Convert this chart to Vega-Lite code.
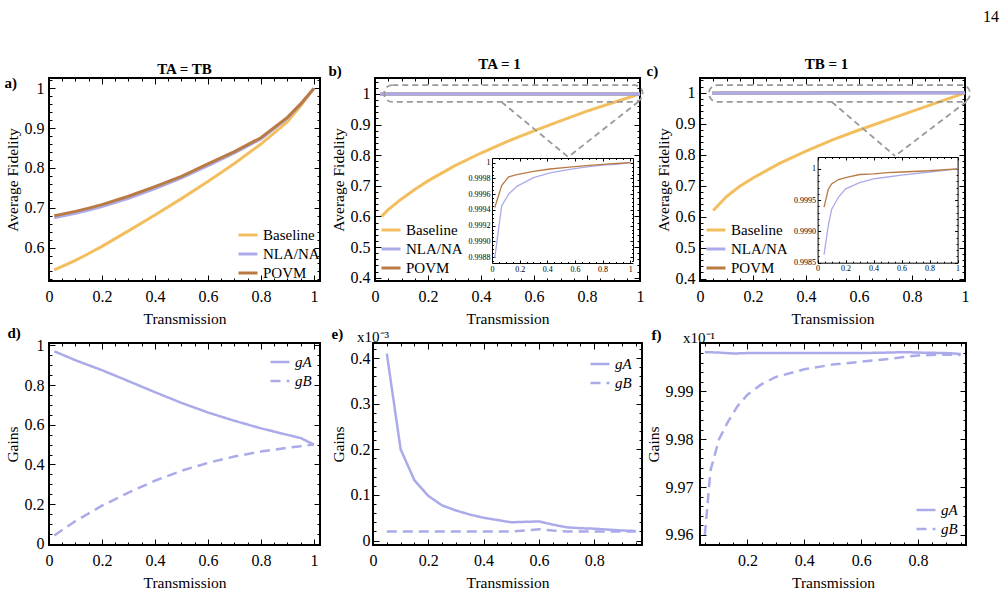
{
"$schema": "https://vega.github.io/schema/vega-lite/v6.json",
"background": "white",
"padding": {"left": 3, "top": 9, "right": 5, "bottom": 3},
"title": {"text": "14", "anchor": "end", "fontSize": 16, "fontWeight": "normal", "offset": 31, "dx": 27},
"datasets": {
"a": [
{"T":0.02,"F":0.544,"s":"Baseline"},{"T":0.05,"F":0.553,"s":"Baseline"},{"T":0.1,"F":0.568,"s":"Baseline"},{"T":0.15,"F":0.585,"s":"Baseline"},{"T":0.2,"F":0.603,"s":"Baseline"},{"T":0.3,"F":0.642,"s":"Baseline"},{"T":0.4,"F":0.682,"s":"Baseline"},{"T":0.5,"F":0.723,"s":"Baseline"},{"T":0.6,"F":0.766,"s":"Baseline"},{"T":0.7,"F":0.811,"s":"Baseline"},{"T":0.8,"F":0.86,"s":"Baseline"},{"T":0.9,"F":0.916,"s":"Baseline"},{"T":0.95,"F":0.956,"s":"Baseline"},{"T":1,"F":1,"s":"Baseline"},
{"T":0.02,"F":0.675,"s":"NLA/NA"},{"T":0.05,"F":0.679,"s":"NLA/NA"},{"T":0.1,"F":0.686,"s":"NLA/NA"},{"T":0.15,"F":0.694,"s":"NLA/NA"},{"T":0.2,"F":0.703,"s":"NLA/NA"},{"T":0.3,"F":0.724,"s":"NLA/NA"},{"T":0.4,"F":0.748,"s":"NLA/NA"},{"T":0.5,"F":0.775,"s":"NLA/NA"},{"T":0.6,"F":0.806,"s":"NLA/NA"},{"T":0.7,"F":0.838,"s":"NLA/NA"},{"T":0.8,"F":0.873,"s":"NLA/NA"},{"T":0.9,"F":0.925,"s":"NLA/NA"},{"T":0.95,"F":0.96,"s":"NLA/NA"},{"T":1,"F":1,"s":"NLA/NA"},
{"T":0.02,"F":0.68,"s":"POVM"},{"T":0.05,"F":0.684,"s":"POVM"},{"T":0.1,"F":0.691,"s":"POVM"},{"T":0.15,"F":0.699,"s":"POVM"},{"T":0.2,"F":0.708,"s":"POVM"},{"T":0.3,"F":0.729,"s":"POVM"},{"T":0.4,"F":0.753,"s":"POVM"},{"T":0.5,"F":0.779,"s":"POVM"},{"T":0.6,"F":0.81,"s":"POVM"},{"T":0.7,"F":0.841,"s":"POVM"},{"T":0.8,"F":0.876,"s":"POVM"},{"T":0.9,"F":0.927,"s":"POVM"},{"T":0.95,"F":0.961,"s":"POVM"},{"T":1,"F":1,"s":"POVM"}
],
"b": [
{"T":0.025,"F":0.6,"s":"Baseline"},{"T":0.05,"F":0.622,"s":"Baseline"},{"T":0.1,"F":0.657,"s":"Baseline"},{"T":0.15,"F":0.688,"s":"Baseline"},{"T":0.2,"F":0.716,"s":"Baseline"},{"T":0.3,"F":0.765,"s":"Baseline"},{"T":0.4,"F":0.807,"s":"Baseline"},{"T":0.5,"F":0.845,"s":"Baseline"},{"T":0.6,"F":0.879,"s":"Baseline"},{"T":0.7,"F":0.912,"s":"Baseline"},{"T":0.8,"F":0.944,"s":"Baseline"},{"T":0.9,"F":0.972,"s":"Baseline"},{"T":1,"F":1,"s":"Baseline"},
{"T":0.02,"F":0.99879,"s":"NLA/NA"},{"T":0.07,"F":0.99945,"s":"NLA/NA"},{"T":0.12,"F":0.9996,"s":"NLA/NA"},{"T":0.18,"F":0.9997,"s":"NLA/NA"},{"T":0.3,"F":0.99981,"s":"NLA/NA"},{"T":0.42,"F":0.99987,"s":"NLA/NA"},{"T":0.54,"F":0.99991,"s":"NLA/NA"},{"T":0.66,"F":0.99994,"s":"NLA/NA"},{"T":0.8,"F":0.99997,"s":"NLA/NA"},{"T":0.9,"F":0.99998,"s":"NLA/NA"},{"T":1,"F":1,"s":"NLA/NA"},
{"T":0.02,"F":0.99943,"s":"POVM"},{"T":0.07,"F":0.99971,"s":"POVM"},{"T":0.12,"F":0.99982,"s":"POVM"},{"T":0.18,"F":0.99985,"s":"POVM"},{"T":0.3,"F":0.99989,"s":"POVM"},{"T":0.42,"F":0.99992,"s":"POVM"},{"T":0.54,"F":0.99994,"s":"POVM"},{"T":0.66,"F":0.99996,"s":"POVM"},{"T":0.8,"F":0.99998,"s":"POVM"},{"T":0.9,"F":0.99999,"s":"POVM"},{"T":1,"F":1,"s":"POVM"}
],
"c": [
{"T":0.05,"F":0.62,"s":"Baseline"},{"T":0.1,"F":0.665,"s":"Baseline"},{"T":0.15,"F":0.698,"s":"Baseline"},{"T":0.2,"F":0.725,"s":"Baseline"},{"T":0.3,"F":0.772,"s":"Baseline"},{"T":0.4,"F":0.812,"s":"Baseline"},{"T":0.5,"F":0.848,"s":"Baseline"},{"T":0.6,"F":0.88,"s":"Baseline"},{"T":0.7,"F":0.91,"s":"Baseline"},{"T":0.8,"F":0.94,"s":"Baseline"},{"T":0.9,"F":0.97,"s":"Baseline"},{"T":1,"F":1,"s":"Baseline"},
{"T":0.046,"F":0.99863,"s":"NLA/NA"},{"T":0.076,"F":0.99909,"s":"NLA/NA"},{"T":0.1,"F":0.99935,"s":"NLA/NA"},{"T":0.15,"F":0.99955,"s":"NLA/NA"},{"T":0.2,"F":0.99968,"s":"NLA/NA"},{"T":0.3,"F":0.99978,"s":"NLA/NA"},{"T":0.4,"F":0.99984,"s":"NLA/NA"},{"T":0.5,"F":0.99987,"s":"NLA/NA"},{"T":0.6,"F":0.9999,"s":"NLA/NA"},{"T":0.8,"F":0.99995,"s":"NLA/NA"},{"T":1,"F":1,"s":"NLA/NA"},
{"T":0.046,"F":0.99939,"s":"POVM"},{"T":0.076,"F":0.99967,"s":"POVM"},{"T":0.1,"F":0.99976,"s":"POVM"},{"T":0.15,"F":0.99983,"s":"POVM"},{"T":0.2,"F":0.99986,"s":"POVM"},{"T":0.3,"F":0.99991,"s":"POVM"},{"T":0.4,"F":0.99992,"s":"POVM"},{"T":0.5,"F":0.99994,"s":"POVM"},{"T":0.6,"F":0.99995,"s":"POVM"},{"T":0.8,"F":0.99997,"s":"POVM"},{"T":1,"F":1,"s":"POVM"}
],
"d": [
{"T":0.02,"g":0.97,"s":"gA"},{"T":0.1,"g":0.925,"s":"gA"},{"T":0.2,"g":0.875,"s":"gA"},{"T":0.3,"g":0.82,"s":"gA"},{"T":0.4,"g":0.764,"s":"gA"},{"T":0.5,"g":0.71,"s":"gA"},{"T":0.6,"g":0.662,"s":"gA"},{"T":0.7,"g":0.62,"s":"gA"},{"T":0.8,"g":0.582,"s":"gA"},{"T":0.9,"g":0.549,"s":"gA"},{"T":0.95,"g":0.533,"s":"gA"},{"T":1,"g":0.5,"s":"gA"},
{"T":0.02,"g":0.042,"s":"gB"},{"T":0.1,"g":0.115,"s":"gB"},{"T":0.2,"g":0.192,"s":"gB"},{"T":0.3,"g":0.258,"s":"gB"},{"T":0.4,"g":0.318,"s":"gB"},{"T":0.5,"g":0.368,"s":"gB"},{"T":0.6,"g":0.408,"s":"gB"},{"T":0.7,"g":0.44,"s":"gB"},{"T":0.8,"g":0.465,"s":"gB"},{"T":0.9,"g":0.484,"s":"gB"},{"T":0.95,"g":0.492,"s":"gB"},{"T":1,"g":0.5,"s":"gB"}
],
"e": [
{"T":0.05,"g":0.41,"s":"gA"},{"T":0.1,"g":0.2,"s":"gA"},{"T":0.15,"g":0.132,"s":"gA"},{"T":0.2,"g":0.098,"s":"gA"},{"T":0.25,"g":0.077,"s":"gA"},{"T":0.3,"g":0.066,"s":"gA"},{"T":0.35,"g":0.057,"s":"gA"},{"T":0.4,"g":0.05,"s":"gA"},{"T":0.45,"g":0.045,"s":"gA"},{"T":0.5,"g":0.04,"s":"gA"},{"T":0.55,"g":0.041,"s":"gA"},{"T":0.6,"g":0.042,"s":"gA"},{"T":0.65,"g":0.035,"s":"gA"},{"T":0.7,"g":0.029,"s":"gA"},{"T":0.75,"g":0.027,"s":"gA"},{"T":0.8,"g":0.026,"s":"gA"},{"T":0.85,"g":0.024,"s":"gA"},{"T":0.9,"g":0.022,"s":"gA"},{"T":0.95,"g":0.021,"s":"gA"},
{"T":0.05,"g":0.02,"s":"gB"},{"T":0.1,"g":0.02,"s":"gB"},{"T":0.2,"g":0.02,"s":"gB"},{"T":0.3,"g":0.02,"s":"gB"},{"T":0.4,"g":0.02,"s":"gB"},{"T":0.5,"g":0.02,"s":"gB"},{"T":0.55,"g":0.022,"s":"gB"},{"T":0.6,"g":0.025,"s":"gB"},{"T":0.65,"g":0.022,"s":"gB"},{"T":0.7,"g":0.02,"s":"gB"},{"T":0.8,"g":0.02,"s":"gB"},{"T":0.9,"g":0.02,"s":"gB"},{"T":0.95,"g":0.02,"s":"gB"}
],
"f": [
{"T":0.05,"g":9.9982,"s":"gA"},{"T":0.1,"g":9.9981,"s":"gA"},{"T":0.15,"g":9.9979,"s":"gA"},{"T":0.2,"g":9.998,"s":"gA"},{"T":0.3,"g":9.998,"s":"gA"},{"T":0.4,"g":9.998,"s":"gA"},{"T":0.5,"g":9.998,"s":"gA"},{"T":0.6,"g":9.998,"s":"gA"},{"T":0.7,"g":9.9981,"s":"gA"},{"T":0.75,"g":9.9982,"s":"gA"},{"T":0.8,"g":9.9981,"s":"gA"},{"T":0.9,"g":9.998,"s":"gA"},{"T":0.95,"g":9.9978,"s":"gA"},
{"T":0.05,"g":9.96,"s":"gB"},{"T":0.07,"g":9.9735,"s":"gB"},{"T":0.1,"g":9.98,"s":"gB"},{"T":0.13,"g":9.9835,"s":"gB"},{"T":0.165,"g":9.9869,"s":"gB"},{"T":0.2,"g":9.9893,"s":"gB"},{"T":0.25,"g":9.9915,"s":"gB"},{"T":0.3,"g":9.993,"s":"gB"},{"T":0.4,"g":9.9946,"s":"gB"},{"T":0.5,"g":9.9956,"s":"gB"},{"T":0.6,"g":9.9962,"s":"gB"},{"T":0.7,"g":9.9968,"s":"gB"},{"T":0.8,"g":9.9975,"s":"gB"},{"T":0.9,"g":9.9977,"s":"gB"},{"T":0.95,"g":9.9976,"s":"gB"}
]
},
"vconcat": [
{"hconcat": [
 {"width": 271, "height": 203,
  "title": {"text": "TA = TB", "anchor": "middle", "frame": "group", "offset": 5, "dy": 10},
  "data": {"name": "a"},
  "layer": [
   {"mark": {"type": "line", "strokeWidth": 3},
    "encoding": {
     "x": {"field": "T", "type": "quantitative", "scale": {"domain": [0, 1.023], "nice": false, "zero": false},
      "axis": {"orient": "bottom", "values": [0,0.05,0.1,0.15,0.2,0.25,0.3,0.35,0.4,0.45,0.5,0.55,0.6,0.65,0.7,0.75,0.8,0.85,0.9,0.95,1], "format": "~g", "labelExpr": "abs(datum.value*5-round(datum.value*5))<1e-6 ? datum.label : ''", "tickSize": {"condition": {"test": "abs(datum.value*5-round(datum.value*5))<1e-6", "value": -6}, "value": -3}, "title": "Transmission", "titlePadding": 4}},
     "y": {"field": "F", "type": "quantitative", "scale": {"domain": [0.516, 1.026], "nice": false, "zero": false},
      "axis": {"orient": "left", "values": [0.52,0.54,0.56,0.58,0.6,0.62,0.64,0.66,0.68,0.7,0.72,0.74,0.76,0.78,0.8,0.82,0.84,0.86,0.88,0.9,0.92,0.94,0.96,0.98,1,1.02], "format": "~g", "labelExpr": "abs(datum.value*10-round(datum.value*10))<1e-6 ? datum.label : ''", "tickSize": {"condition": {"test": "abs(datum.value*10-round(datum.value*10))<1e-6", "value": -6}, "value": -3}, "labelPadding": 11, "title": "Average Fidelity", "titlePadding": 4}},
     "color": {"field": "s", "type": "nominal", "scale": {"domain": ["Baseline", "NLA/NA", "POVM"], "range": ["#F3BE5E", "#ABABEA", "#B97B43"]}, "legend": {"title": null, "orient": "bottom-right", "offset": 0}}
    }},
   {"mark": {"type": "point", "opacity": 0},
    "encoding": {
     "x": {"field": "T", "type": "quantitative", "axis": {"orient": "top", "values": [0,0.05,0.1,0.15,0.2,0.25,0.3,0.35,0.4,0.45,0.5,0.55,0.6,0.65,0.7,0.75,0.8,0.85,0.9,0.95,1], "labels": false, "tickSize": {"condition": {"test": "abs(datum.value*5-round(datum.value*5))<1e-6", "value": -6}, "value": -3}, "title": "a)", "titleX": -45, "titleY": 4, "titleAngle": 0, "titleAlign": "left", "titleBaseline": "middle", "titleFontWeight": "bold", "titleFontSize": 15}},
     "y": {"field": "F", "type": "quantitative", "axis": {"orient": "right", "values": [0.52,0.54,0.56,0.58,0.6,0.62,0.64,0.66,0.68,0.7,0.72,0.74,0.76,0.78,0.8,0.82,0.84,0.86,0.88,0.9,0.92,0.94,0.96,0.98,1,1.02], "labels": false, "tickSize": {"condition": {"test": "abs(datum.value*10-round(datum.value*10))<1e-6", "value": -6}, "value": -3}, "title": null}}
    }}
  ],
  "resolve": {"axis": {"x": "independent", "y": "independent"}}
 },
 {"hconcat": [
 {"width": 265, "height": 203,
  "title": {"text": "TA = 1", "anchor": "middle", "frame": "group", "offset": 5, "dx": -8, "dy": 14},
  "layer": [
   {"data": {"name": "b"},
    "layer": [
     {"mark": {"type": "line", "strokeWidth": 3},
      "encoding": {
       "x": {"field": "T", "type": "quantitative", "scale": {"domain": [0, 1], "nice": false, "zero": false},
        "axis": {"orient": "bottom", "values": [0,0.05,0.1,0.15,0.2,0.25,0.3,0.35,0.4,0.45,0.5,0.55,0.6,0.65,0.7,0.75,0.8,0.85,0.9,0.95,1], "format": "~g", "labelExpr": "abs(datum.value*5-round(datum.value*5))<1e-6 ? datum.label : ''", "tickSize": {"condition": {"test": "abs(datum.value*5-round(datum.value*5))<1e-6", "value": -6}, "value": -3}, "title": "Transmission", "titlePadding": 4}},
       "y": {"field": "F", "type": "quantitative", "scale": {"domain": [0.389, 1.052], "nice": false, "zero": false},
        "axis": {"orient": "left", "values": [0.4,0.42,0.44,0.46,0.48,0.5,0.52,0.54,0.56,0.58,0.6,0.62,0.64,0.66,0.68,0.7,0.72,0.74,0.76,0.78,0.8,0.82,0.84,0.86,0.88,0.9,0.92,0.94,0.96,0.98,1,1.02,1.04], "format": "~g", "labelExpr": "abs(datum.value*10-round(datum.value*10))<1e-6 ? datum.label : ''", "tickSize": {"condition": {"test": "abs(datum.value*10-round(datum.value*10))<1e-6", "value": -6}, "value": -3}, "labelPadding": 11, "title": "Average Fidelity", "titlePadding": 4}},
       "color": {"field": "s", "type": "nominal", "scale": {"domain": ["Baseline", "NLA/NA", "POVM"], "range": ["#F3BE5E", "#ABABEA", "#B97B43"]}, "legend": {"title": null, "orient": "bottom-left", "offset": 5}}
      }},
     {"transform": [{"filter": "datum.s == 'NLA/NA'"}],
      "mark": {"type": "line", "strokeWidth": 3, "color": "#ABABEA"},
      "encoding": {"x": {"field": "T", "type": "quantitative", "axis": null}, "y": {"field": "F", "type": "quantitative", "axis": null}}},
     {"mark": {"type": "point", "opacity": 0},
      "encoding": {
       "x": {"field": "T", "type": "quantitative", "axis": {"orient": "top", "values": [0,0.05,0.1,0.15,0.2,0.25,0.3,0.35,0.4,0.45,0.5,0.55,0.6,0.65,0.7,0.75,0.8,0.85,0.9,0.95,1], "labels": false, "tickSize": {"condition": {"test": "abs(datum.value*5-round(datum.value*5))<1e-6", "value": -6}, "value": -3}, "title": "b)", "titleX": -47, "titleY": -8, "titleAngle": 0, "titleAlign": "left", "titleBaseline": "middle", "titleFontWeight": "bold", "titleFontSize": 15}},
       "y": {"field": "F", "type": "quantitative", "axis": {"orient": "right", "values": [0.4,0.42,0.44,0.46,0.48,0.5,0.52,0.54,0.56,0.58,0.6,0.62,0.64,0.66,0.68,0.7,0.72,0.74,0.76,0.78,0.8,0.82,0.84,0.86,0.88,0.9,0.92,0.94,0.96,0.98,1,1.02,1.04], "labels": false, "tickSize": {"condition": {"test": "abs(datum.value*10-round(datum.value*10))<1e-6", "value": -6}, "value": -3}, "title": null}}
      }},
     {"data": {"values": [{}]},
      "mark": {"type": "rect", "filled": false, "color": "#999999", "strokeWidth": 1.8, "strokeDash": [6, 4], "cornerRadius": 8},
      "encoding": {"x": {"datum": 0.035, "type": "quantitative", "axis": null}, "x2": {"datum": 1.01}, "y": {"datum": 0.974, "type": "quantitative", "axis": null}, "y2": {"datum": 1.029}}},
     {"data": {"values": [{}]},
      "mark": {"type": "rule", "color": "#999999", "strokeWidth": 1.8, "strokeDash": [6, 4]},
      "encoding": {"x": {"datum": 0.477, "type": "quantitative", "axis": null}, "x2": {"datum": 0.729}, "y": {"datum": 0.974, "type": "quantitative", "axis": null}, "y2": {"datum": 0.794}}},
     {"data": {"values": [{}]},
      "mark": {"type": "rule", "color": "#999999", "strokeWidth": 1.8, "strokeDash": [6, 4]},
      "encoding": {"x": {"datum": 0.995, "type": "quantitative", "axis": null}, "x2": {"datum": 0.729}, "y": {"datum": 0.975, "type": "quantitative", "axis": null}, "y2": {"datum": 0.794}}}
    ],
    "resolve": {"axis": {"x": "independent", "y": "independent"}}
   },
   {"data": {"name": "b"},
    "transform": [{"filter": "datum.s != 'Baseline'"}],
    "layer": [
     {"mark": {"type": "line", "strokeWidth": 1.3},
      "encoding": {
       "x": {"field": "T", "type": "quantitative", "scale": {"domain": [0, 1.02], "range": [117, 258], "nice": false, "zero": false},
        "axis": {"orient": "bottom", "offset": -18, "values": [0,0.05,0.1,0.15,0.2,0.25,0.3,0.35,0.4,0.45,0.5,0.55,0.6,0.65,0.7,0.75,0.8,0.85,0.9,0.95,1], "format": "~g", "labelExpr": "abs(datum.value*5-round(datum.value*5))<1e-6 ? datum.label : ''", "labelFontSize": 8, "labelPadding": 5, "tickSize": {"condition": {"test": "abs(datum.value*5-round(datum.value*5))<1e-6", "value": -3}, "value": -1.5}, "domain": true, "domainColor": "black", "domainWidth": 1, "title": null}},
       "y": {"field": "F", "type": "quantitative", "scale": {"domain": [0.99875, 1.00006], "range": [183, 80], "nice": false, "zero": false},
        "axis": {"orient": "left", "offset": -117, "values": [0.99875,0.9988,0.99885,0.9989,0.99895,0.999,0.99905,0.9991,0.99915,0.9992,0.99925,0.9993,0.99935,0.9994,0.99945,0.9995,0.99955,0.9996,0.99965,0.9997,0.99975,0.9998,0.99985,0.9999,0.99995,1], "labelExpr": "abs(datum.value*5000-round(datum.value*5000))<0.01 ? (datum.value==1 ? '1' : format(datum.value,'.4f')) : ''", "labelFontSize": 8, "labelPadding": 5, "tickSize": {"condition": {"test": "abs(datum.value*5000-round(datum.value*5000))<0.01", "value": -3}, "value": -1.5}, "domain": true, "domainColor": "black", "domainWidth": 1, "title": null}},
       "color": {"field": "s", "type": "nominal"}
      }},
     {"mark": {"type": "point", "opacity": 0},
      "encoding": {
       "x": {"field": "T", "type": "quantitative", "axis": {"orient": "top", "offset": -80, "values": [0,0.05,0.1,0.15,0.2,0.25,0.3,0.35,0.4,0.45,0.5,0.55,0.6,0.65,0.7,0.75,0.8,0.85,0.9,0.95,1], "labels": false, "tickSize": {"condition": {"test": "abs(datum.value*5-round(datum.value*5))<1e-6", "value": -3}, "value": -1.5}, "domain": true, "domainColor": "black", "domainWidth": 1, "title": null}},
       "y": {"field": "F", "type": "quantitative", "axis": {"orient": "right", "offset": -7, "values": [0.99875,0.9988,0.99885,0.9989,0.99895,0.999,0.99905,0.9991,0.99915,0.9992,0.99925,0.9993,0.99935,0.9994,0.99945,0.9995,0.99955,0.9996,0.99965,0.9997,0.99975,0.9998,0.99985,0.9999,0.99995,1], "labels": false, "tickSize": {"condition": {"test": "abs(datum.value*5000-round(datum.value*5000))<0.01", "value": -3}, "value": -1.5}, "domain": true, "domainColor": "black", "domainWidth": 1, "title": null}}
      }}
    ],
    "resolve": {"axis": {"x": "independent", "y": "independent"}}
   }
  ],
  "resolve": {"scale": {"x": "independent", "y": "independent"}}
 },
 {"width": 265, "height": 203,
  "title": {"text": "TB = 1", "anchor": "middle", "frame": "group", "offset": 5, "dx": -6, "dy": 14},
  "layer": [
   {"data": {"name": "c"},
    "layer": [
     {"mark": {"type": "line", "strokeWidth": 3},
      "encoding": {
       "x": {"field": "T", "type": "quantitative", "scale": {"domain": [0, 1], "nice": false, "zero": false},
        "axis": {"orient": "bottom", "values": [0,0.05,0.1,0.15,0.2,0.25,0.3,0.35,0.4,0.45,0.5,0.55,0.6,0.65,0.7,0.75,0.8,0.85,0.9,0.95,1], "format": "~g", "labelExpr": "abs(datum.value*5-round(datum.value*5))<1e-6 ? datum.label : ''", "tickSize": {"condition": {"test": "abs(datum.value*5-round(datum.value*5))<1e-6", "value": -6}, "value": -3}, "title": "Transmission", "titlePadding": 4}},
       "y": {"field": "F", "type": "quantitative", "scale": {"domain": [0.392, 1.048], "nice": false, "zero": false},
        "axis": {"orient": "left", "values": [0.4,0.42,0.44,0.46,0.48,0.5,0.52,0.54,0.56,0.58,0.6,0.62,0.64,0.66,0.68,0.7,0.72,0.74,0.76,0.78,0.8,0.82,0.84,0.86,0.88,0.9,0.92,0.94,0.96,0.98,1,1.02,1.04], "format": "~g", "labelExpr": "abs(datum.value*10-round(datum.value*10))<1e-6 ? datum.label : ''", "tickSize": {"condition": {"test": "abs(datum.value*10-round(datum.value*10))<1e-6", "value": -6}, "value": -3}, "labelPadding": 11, "title": "Average Fidelity", "titlePadding": 4}},
       "color": {"field": "s", "type": "nominal", "scale": {"domain": ["Baseline", "NLA/NA", "POVM"], "range": ["#F3BE5E", "#ABABEA", "#B97B43"]}, "legend": {"title": null, "orient": "bottom-left", "offset": 5}}
      }},
     {"transform": [{"filter": "datum.s == 'NLA/NA'"}],
      "mark": {"type": "line", "strokeWidth": 3, "color": "#ABABEA"},
      "encoding": {"x": {"field": "T", "type": "quantitative", "axis": null}, "y": {"field": "F", "type": "quantitative", "axis": null}}},
     {"mark": {"type": "point", "opacity": 0},
      "encoding": {
       "x": {"field": "T", "type": "quantitative", "axis": {"orient": "top", "values": [0,0.05,0.1,0.15,0.2,0.25,0.3,0.35,0.4,0.45,0.5,0.55,0.6,0.65,0.7,0.75,0.8,0.85,0.9,0.95,1], "labels": false, "tickSize": {"condition": {"test": "abs(datum.value*5-round(datum.value*5))<1e-6", "value": -6}, "value": -3}, "title": "c)", "titleX": -54, "titleY": -8, "titleAngle": 0, "titleAlign": "left", "titleBaseline": "middle", "titleFontWeight": "bold", "titleFontSize": 15}},
       "y": {"field": "F", "type": "quantitative", "axis": {"orient": "right", "values": [0.4,0.42,0.44,0.46,0.48,0.5,0.52,0.54,0.56,0.58,0.6,0.62,0.64,0.66,0.68,0.7,0.72,0.74,0.76,0.78,0.8,0.82,0.84,0.86,0.88,0.9,0.92,0.94,0.96,0.98,1,1.02,1.04], "labels": false, "tickSize": {"condition": {"test": "abs(datum.value*10-round(datum.value*10))<1e-6", "value": -6}, "value": -3}, "title": null}}
      }},
     {"data": {"values": [{}]},
      "mark": {"type": "rect", "filled": false, "color": "#999999", "strokeWidth": 1.8, "strokeDash": [6, 4], "cornerRadius": 8},
      "encoding": {"x": {"datum": 0.034, "type": "quantitative", "axis": null}, "x2": {"datum": 1.019}, "y": {"datum": 0.971, "type": "quantitative", "axis": null}, "y2": {"datum": 1.025}}},
     {"data": {"values": [{}]},
      "mark": {"type": "rule", "color": "#999999", "strokeWidth": 1.8, "strokeDash": [6, 4]},
      "encoding": {"x": {"datum": 0.497, "type": "quantitative", "axis": null}, "x2": {"datum": 0.736}, "y": {"datum": 0.971, "type": "quantitative", "axis": null}, "y2": {"datum": 0.796}}},
     {"data": {"values": [{}]},
      "mark": {"type": "rule", "color": "#999999", "strokeWidth": 1.8, "strokeDash": [6, 4]},
      "encoding": {"x": {"datum": 1.006, "type": "quantitative", "axis": null}, "x2": {"datum": 0.736}, "y": {"datum": 0.972, "type": "quantitative", "axis": null}, "y2": {"datum": 0.796}}}
    ],
    "resolve": {"axis": {"x": "independent", "y": "independent"}}
   },
   {"data": {"name": "c"},
    "transform": [{"filter": "datum.s != 'Baseline'"}],
    "layer": [
     {"mark": {"type": "line", "strokeWidth": 1.3},
      "encoding": {
       "x": {"field": "T", "type": "quantitative", "scale": {"domain": [0, 1], "range": [117.6, 257.6], "nice": false, "zero": false},
        "axis": {"orient": "bottom", "offset": -18.3, "values": [0,0.05,0.1,0.15,0.2,0.25,0.3,0.35,0.4,0.45,0.5,0.55,0.6,0.65,0.7,0.75,0.8,0.85,0.9,0.95,1], "format": "~g", "labelExpr": "abs(datum.value*5-round(datum.value*5))<1e-6 ? datum.label : ''", "labelFontSize": 8, "labelPadding": 5, "tickSize": {"condition": {"test": "abs(datum.value*5-round(datum.value*5))<1e-6", "value": -3}, "value": -1.5}, "domain": true, "domainColor": "black", "domainWidth": 1, "title": null}},
       "y": {"field": "F", "type": "quantitative", "scale": {"domain": [0.9985, 1.00019], "range": [184.7, 79], "nice": false, "zero": false},
        "axis": {"orient": "left", "offset": -117.6, "values": [0.9985,0.9986,0.9987,0.9988,0.9989,0.999,0.9991,0.9992,0.9993,0.9994,0.9995,0.9996,0.9997,0.9998,0.9999,1], "labelExpr": "abs(datum.value*2000-round(datum.value*2000))<0.01 ? (datum.value==1 ? '1' : format(datum.value,'.4f')) : ''", "labelFontSize": 8, "labelPadding": 5, "tickSize": {"condition": {"test": "abs(datum.value*2000-round(datum.value*2000))<0.01", "value": -3}, "value": -1.5}, "domain": true, "domainColor": "black", "domainWidth": 1, "title": null}},
       "color": {"field": "s", "type": "nominal"}
      }},
     {"mark": {"type": "point", "opacity": 0},
      "encoding": {
       "x": {"field": "T", "type": "quantitative", "axis": {"orient": "top", "offset": -79, "values": [0,0.05,0.1,0.15,0.2,0.25,0.3,0.35,0.4,0.45,0.5,0.55,0.6,0.65,0.7,0.75,0.8,0.85,0.9,0.95,1], "labels": false, "tickSize": {"condition": {"test": "abs(datum.value*5-round(datum.value*5))<1e-6", "value": -3}, "value": -1.5}, "domain": true, "domainColor": "black", "domainWidth": 1, "title": null}},
       "y": {"field": "F", "type": "quantitative", "axis": {"orient": "right", "offset": -7.4, "values": [0.9985,0.9986,0.9987,0.9988,0.9989,0.999,0.9991,0.9992,0.9993,0.9994,0.9995,0.9996,0.9997,0.9998,0.9999,1], "labels": false, "tickSize": {"condition": {"test": "abs(datum.value*2000-round(datum.value*2000))<0.01", "value": -3}, "value": -1.5}, "domain": true, "domainColor": "black", "domainWidth": 1, "title": null}}
      }}
    ],
    "resolve": {"axis": {"x": "independent", "y": "independent"}}
   }
  ],
  "resolve": {"scale": {"x": "independent", "y": "independent"}}
 }
 ],
 "spacing": -2,
 "resolve": {"scale": {"color": "independent", "strokeDash": "independent"}}
 }
],
"spacing": 5,
"resolve": {"scale": {"color": "independent", "strokeDash": "independent"}}
},
{"hconcat": [
 {"width": 271, "height": 202,
  "data": {"name": "d"},
  "layer": [
   {"mark": {"type": "line", "strokeWidth": 2.5, "color": "#ABABEA"},
    "encoding": {
     "x": {"field": "T", "type": "quantitative", "scale": {"domain": [0, 1.023], "nice": false, "zero": false},
      "axis": {"orient": "bottom", "values": [0,0.05,0.1,0.15,0.2,0.25,0.3,0.35,0.4,0.45,0.5,0.55,0.6,0.65,0.7,0.75,0.8,0.85,0.9,0.95,1], "format": "~g", "labelExpr": "abs(datum.value*5-round(datum.value*5))<1e-6 ? datum.label : ''", "tickSize": {"condition": {"test": "abs(datum.value*5-round(datum.value*5))<1e-6", "value": -6}, "value": -3}, "title": "Transmission", "titlePadding": 4}},
     "y": {"field": "g", "type": "quantitative", "scale": {"domain": [-0.006, 1.012], "nice": false, "zero": false},
      "axis": {"orient": "left", "values": [0,0.05,0.1,0.15,0.2,0.25,0.3,0.35,0.4,0.45,0.5,0.55,0.6,0.65,0.7,0.75,0.8,0.85,0.9,0.95,1], "format": "~g", "labelExpr": "abs(datum.value*5-round(datum.value*5))<1e-6 ? datum.label : ''", "tickSize": {"condition": {"test": "abs(datum.value*5-round(datum.value*5))<1e-6", "value": -6}, "value": -3}, "labelPadding": 11, "title": "Gains", "titlePadding": 4}},
     "strokeDash": {"field": "s", "type": "nominal", "scale": {"domain": ["gA", "gB"], "range": [[1, 0], [10, 6]]}, "legend": {"title": null, "orient": "top-right", "offset": 8, "labelFontStyle": "italic", "symbolStrokeColor": "#ABABEA", "symbolStrokeWidth": 2.5}}
    }},
   {"mark": {"type": "point", "opacity": 0},
    "encoding": {
     "x": {"field": "T", "type": "quantitative", "axis": {"orient": "top", "values": [0,0.05,0.1,0.15,0.2,0.25,0.3,0.35,0.4,0.45,0.5,0.55,0.6,0.65,0.7,0.75,0.8,0.85,0.9,0.95,1], "labels": false, "tickSize": {"condition": {"test": "abs(datum.value*5-round(datum.value*5))<1e-6", "value": -6}, "value": -3}, "title": "d)", "titleX": -42, "titleY": -11, "titleAngle": 0, "titleAlign": "left", "titleBaseline": "middle", "titleFontWeight": "bold", "titleFontSize": 15}},
     "y": {"field": "g", "type": "quantitative", "axis": {"orient": "right", "values": [0,0.05,0.1,0.15,0.2,0.25,0.3,0.35,0.4,0.45,0.5,0.55,0.6,0.65,0.7,0.75,0.8,0.85,0.9,0.95,1], "labels": false, "tickSize": {"condition": {"test": "abs(datum.value*5-round(datum.value*5))<1e-6", "value": -6}, "value": -3}, "title": null}}
    }}
  ],
  "resolve": {"axis": {"x": "independent", "y": "independent"}}
 },
 {"hconcat": [
 {"width": 269, "height": 202,
  "title": {"text": "x10⁻³", "anchor": "start", "frame": "group", "offset": 3, "dx": -16, "dy": 22, "fontWeight": "normal", "fontSize": 15},
  "data": {"name": "e"},
  "layer": [
   {"mark": {"type": "line", "strokeWidth": 2.5, "color": "#ABABEA"},
    "encoding": {
     "x": {"field": "T", "type": "quantitative", "scale": {"domain": [0, 0.973], "nice": false, "zero": false},
      "axis": {"orient": "bottom", "values": [0,0.05,0.1,0.15,0.2,0.25,0.3,0.35,0.4,0.45,0.5,0.55,0.6,0.65,0.7,0.75,0.8,0.85,0.9,0.95], "format": "~g", "labelExpr": "abs(datum.value*5-round(datum.value*5))<1e-6 ? datum.label : ''", "tickSize": {"condition": {"test": "abs(datum.value*5-round(datum.value*5))<1e-6", "value": -6}, "value": -3}, "title": "Transmission", "titlePadding": 4}},
     "y": {"field": "g", "type": "quantitative", "scale": {"domain": [-0.0098, 0.4334], "nice": false, "zero": false},
      "axis": {"orient": "left", "values": [0,0.02,0.04,0.06,0.08,0.1,0.12,0.14,0.16,0.18,0.2,0.22,0.24,0.26,0.28,0.3,0.32,0.34,0.36,0.38,0.4,0.42], "format": "~g", "labelExpr": "abs(datum.value*10-round(datum.value*10))<1e-6 ? datum.label : ''", "tickSize": {"condition": {"test": "abs(datum.value*10-round(datum.value*10))<1e-6", "value": -6}, "value": -3}, "labelPadding": 9, "title": "Gains", "titlePadding": 4}},
     "strokeDash": {"field": "s", "type": "nominal", "scale": {"domain": ["gA", "gB"], "range": [[1, 0], [10, 6]]}, "legend": {"title": null, "orient": "top-right", "offset": 10, "labelFontStyle": "italic", "symbolStrokeColor": "#ABABEA", "symbolStrokeWidth": 2.5}}
    }},
   {"mark": {"type": "point", "opacity": 0},
    "encoding": {
     "x": {"field": "T", "type": "quantitative", "axis": {"orient": "top", "values": [0,0.05,0.1,0.15,0.2,0.25,0.3,0.35,0.4,0.45,0.5,0.55,0.6,0.65,0.7,0.75,0.8,0.85,0.9,0.95], "labels": false, "tickSize": {"condition": {"test": "abs(datum.value*5-round(datum.value*5))<1e-6", "value": -6}, "value": -3}, "title": "e)", "titleX": -42, "titleY": -10, "titleAngle": 0, "titleAlign": "left", "titleBaseline": "middle", "titleFontWeight": "bold", "titleFontSize": 15}},
     "y": {"field": "g", "type": "quantitative", "axis": {"orient": "right", "values": [0,0.02,0.04,0.06,0.08,0.1,0.12,0.14,0.16,0.18,0.2,0.22,0.24,0.26,0.28,0.3,0.32,0.34,0.36,0.38,0.4,0.42], "labels": false, "tickSize": {"condition": {"test": "abs(datum.value*10-round(datum.value*10))<1e-6", "value": -6}, "value": -3}, "title": null}}
    }}
  ],
  "resolve": {"axis": {"x": "independent", "y": "independent"}}
 },
 {"width": 266, "height": 202,
  "title": {"text": "x10⁻¹", "anchor": "start", "frame": "group", "offset": 3, "dx": -17, "dy": 22, "fontWeight": "normal", "fontSize": 15},
  "data": {"name": "f"},
  "layer": [
   {"mark": {"type": "line", "strokeWidth": 2.5, "color": "#ABABEA"},
    "encoding": {
     "x": {"field": "T", "type": "quantitative", "scale": {"domain": [0.033, 0.969], "nice": false, "zero": false},
      "axis": {"orient": "bottom", "values": [0.05,0.1,0.15,0.2,0.25,0.3,0.35,0.4,0.45,0.5,0.55,0.6,0.65,0.7,0.75,0.8,0.85,0.9,0.95], "format": "~g", "labelExpr": "abs(datum.value*5-round(datum.value*5))<1e-6 ? datum.label : ''", "tickSize": {"condition": {"test": "abs(datum.value*5-round(datum.value*5))<1e-6", "value": -6}, "value": -3}, "title": "Transmission", "titlePadding": 4}},
     "y": {"field": "g", "type": "quantitative", "scale": {"domain": [9.9579, 10.0001], "nice": false, "zero": false},
      "axis": {"orient": "left", "values": [9.958,9.96,9.962,9.964,9.966,9.968,9.97,9.972,9.974,9.976,9.978,9.98,9.982,9.984,9.986,9.988,9.99,9.992,9.994,9.996,9.998], "format": ".2f", "labelExpr": "abs(datum.value*100-round(datum.value*100))<1e-4 ? datum.label : ''", "tickSize": {"condition": {"test": "abs(datum.value*100-round(datum.value*100))<1e-4", "value": -6}, "value": -3}, "labelPadding": 13, "title": "Gains", "titlePadding": 4}},
     "strokeDash": {"field": "s", "type": "nominal", "scale": {"domain": ["gA", "gB"], "range": [[1, 0], [10, 6]]}, "legend": {"title": null, "orient": "bottom-right", "offset": 8, "labelFontStyle": "italic", "symbolStrokeColor": "#ABABEA", "symbolStrokeWidth": 2.5}}
    }},
   {"mark": {"type": "point", "opacity": 0},
    "encoding": {
     "x": {"field": "T", "type": "quantitative", "axis": {"orient": "top", "values": [0.05,0.1,0.15,0.2,0.25,0.3,0.35,0.4,0.45,0.5,0.55,0.6,0.65,0.7,0.75,0.8,0.85,0.9,0.95], "labels": false, "tickSize": {"condition": {"test": "abs(datum.value*5-round(datum.value*5))<1e-6", "value": -6}, "value": -3}, "title": "f)", "titleX": -49, "titleY": -9, "titleAngle": 0, "titleAlign": "left", "titleBaseline": "middle", "titleFontWeight": "bold", "titleFontSize": 15}},
     "y": {"field": "g", "type": "quantitative", "axis": {"orient": "right", "values": [9.958,9.96,9.962,9.964,9.966,9.968,9.97,9.972,9.974,9.976,9.978,9.98,9.982,9.984,9.986,9.988,9.99,9.992,9.994,9.996,9.998], "labels": false, "tickSize": {"condition": {"test": "abs(datum.value*100-round(datum.value*100))<1e-4", "value": -6}, "value": -3}, "title": null}}
    }}
  ],
  "resolve": {"axis": {"x": "independent", "y": "independent"}}
 }
 ],
 "spacing": 1,
 "resolve": {"scale": {"color": "independent", "strokeDash": "independent"}}
 }
],
"spacing": 8,
"resolve": {"scale": {"color": "independent", "strokeDash": "independent"}}
}
],
"spacing": -4,
"resolve": {"scale": {"color": "independent", "strokeDash": "independent"}},
"config": {
 "font": "Liberation Serif",
 "view": {"stroke": "black", "strokeWidth": 2},
 "axis": {"grid": false, "domain": false, "tickColor": "black", "tickWidth": 1, "labelFont": "Liberation Serif", "labelFontSize": 16, "labelColor": "black", "titleFont": "Liberation Serif", "titleFontSize": 15.5, "titleFontWeight": "normal", "titleColor": "black", "labelFlush": false, "labelOverlap": false, "labelBound": false, "labelPadding": 13},
 "legend": {"labelFont": "Liberation Serif", "labelFontSize": 15, "labelColor": "black", "symbolType": "stroke", "symbolStrokeWidth": 3, "symbolSize": 360, "rowPadding": 0, "labelOffset": 4, "padding": 0},
 "title": {"font": "Liberation Serif", "fontSize": 15, "fontWeight": "bold", "color": "black"}
}
}
